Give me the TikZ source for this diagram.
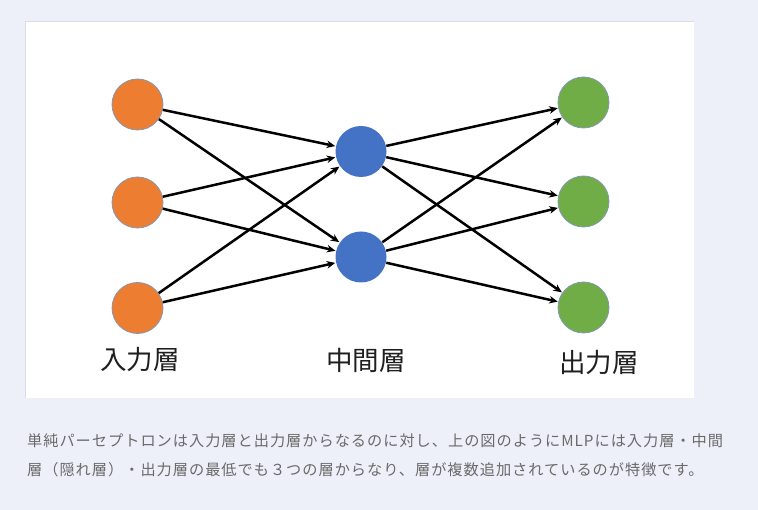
\documentclass[tikz,border=0pt]{standalone}
\usepackage{fontspec}
\newfontfamily\jp{Noto Sans CJK JP}
\newfontfamily\jpcap[LetterSpace=6.5]{Noto Sans CJK JP}
\usetikzlibrary{arrows.meta}
\definecolor{bgc}{HTML}{EEF0F9}
\definecolor{panelline}{HTML}{DCDDE3}
\definecolor{orangec}{HTML}{ED7D31}
\definecolor{bluec}{HTML}{4472C4}
\definecolor{greenc}{HTML}{70AD47}
\definecolor{ringc}{HTML}{8497B0}
\definecolor{captc}{HTML}{6A6A6A}
\tikzset{
  neuron/.style={circle, minimum size=51pt, inner sep=0pt, draw=ringc, line width=0.8pt},
  conn/.style={line width=2.5pt, black, -{Stealth[length=8.5pt,width=7.5pt]}, shorten >=0.5pt},
  layerlabel/.style={font=\jp\fontsize{26.5}{30}\selectfont, text=black!88, inner sep=0pt},
  caption/.style={font=\jpcap\fontsize{15.2}{18}\selectfont, text=captc, anchor=west, inner sep=0pt}
}
\begin{document}
\begin{tikzpicture}[x=1pt,y=-1pt]
\useasboundingbox (0,0) rectangle (758,510);
\fill[bgc] (0,0) rectangle (758,510);
\fill[white] (25,21) rectangle (694,398);
\draw[panelline, line width=0.8pt] (25,398) -- (25,21) -- (694,21);

\node[neuron, fill=orangec] (i1) at (137.5,104.5) {};
\node[neuron, fill=orangec] (i2) at (137.5,202.5) {};
\node[neuron, fill=orangec] (i3) at (137.5,308) {};
\node[neuron, fill=bluec, draw=none] (h1) at (361,151.5) {};
\node[neuron, fill=bluec, draw=none] (h2) at (361,257) {};
\node[neuron, fill=greenc] (o1) at (583.5,102.5) {};
\node[neuron, fill=greenc] (o2) at (583.5,201.5) {};
\node[neuron, fill=greenc] (o3) at (583.5,307.5) {};

\foreach \a in {i1,i2,i3}{
  \foreach \b in {h1,h2}{
    \draw[conn] (\a) -- (\b);
  }
}
\foreach \a in {h1,h2}{
  \foreach \b in {o1,o2,o3}{
    \draw[conn] (\a) -- (\b);
  }
}

\node[layerlabel] (l1) at (140,360) {入力層};
\node[layerlabel] (l2) at (366,360) {中間層};
\node[layerlabel] (l3) at (599,363) {出力層};

\node[caption] (c1) at (27,441) {単純パーセプトロンは入力層と出力層からなるのに対し、上の図のようにMLPには入力層・中間};
\node[caption] (c2) at (27,470) {層（隠れ層）・出力層の最低でも３つの層からなり、層が複数追加されているのが特徴です。};
\end{tikzpicture}
\end{document}
